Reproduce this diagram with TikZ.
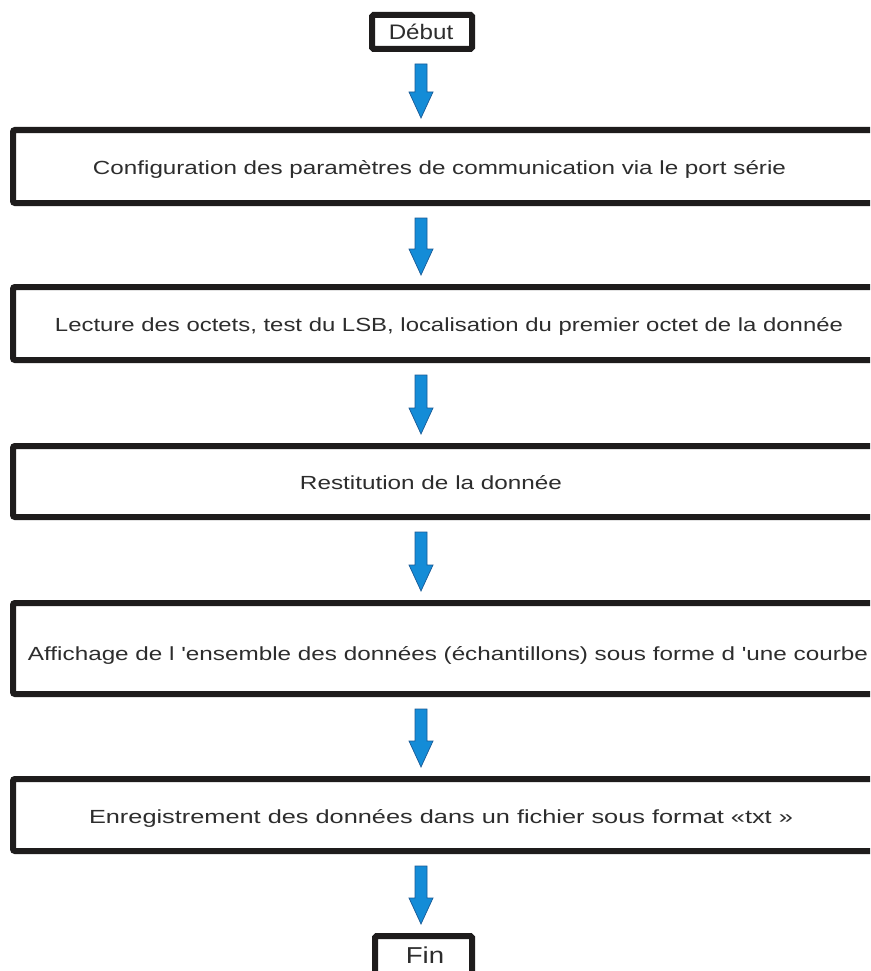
\documentclass[tikz,border=0pt]{standalone}
\usepackage{fontspec}
\setmainfont{Liberation Sans}
\usetikzlibrary{calc}
\definecolor{ink}{RGB}{30,28,28}
\definecolor{txt}{RGB}{45,45,45}
\definecolor{arrfill}{RGB}{20,140,215}
\definecolor{arrline}{RGB}{25,90,150}
\newcommand\wide[2]{\scalebox{#1}[1]{#2}}
\newcommand\fitw[2]{\resizebox{#1}{\height}{#2}}
\begin{document}
\begin{tikzpicture}[x=1pt,y=-1pt,
  box/.style={draw=ink, line width=6pt, rounded corners=2pt, minimum width=877pt, inner sep=0pt},
  term/.style={draw=ink, line width=6pt, rounded corners=1.5pt, inner sep=0pt},
  lbl/.style={anchor=base, inner sep=0pt, text=txt, font=\fontsize{19}{19}\selectfont},
  flow/.style={fill=arrfill, draw=arrline, line width=0.7pt}]
\useasboundingbox (0,0) rectangle (870,971);
\clip (0,0) rectangle (870,971);
\fill[white] (0,0) rectangle (870,971);
\coordinate (col) at (421,0);
% terminals
\node[term, minimum width=100pt, minimum height=34pt] (deb) at (422,32) {};
\node[lbl, font=\fontsize{21}{21}\selectfont] (tdeb) at (421,40) {\wide{1.15}{Début}};
\node[term, minimum width=97pt, minimum height=40pt] (fin) at (423.5,956) {};
\node[lbl, font=\fontsize{23}{23}\selectfont] (tfin) at (425,963) {\wide{1.2}{Fin}};
% process boxes
\node[box, minimum height=73pt] (b1) at (451.5,166.5) {};
\node[lbl] (t1) at (439.5,174.5) {\fitw{693pt}{Configuration des paramètres de communication via le port série}};
\node[box, minimum height=73pt] (b2) at (451.5,323.5) {};
\node[lbl] (t2) at (449,331.5) {\fitw{788pt}{Lecture des octets, test du LSB, localisation du premier octet de la donnée}};
\node[box, minimum height=71pt] (b3) at (451.5,481.5) {};
\node[lbl] (t3) at (431,489.5) {\fitw{262pt}{Restitution de la donnée}};
\node[box, minimum height=91pt] (b4) at (451.5,648.5) {};
\node[lbl] (t4) at (448,660.5) {\fitw{840pt}{Affichage de l \textquotesingle ensemble des données (échantillons) sous forme d \textquotesingle une courbe}};
\node[box, minimum height=72pt] (b5) at (451.5,815) {};
\node[lbl] (t5) at (441,823) {\fitw{704pt}{Enregistrement des données dans un fichier sous format «txt~»}};
% block arrows
\foreach \a/\b in {deb/b1,b1/b2,b2/b3,b3/b4,b4/b5,b5/fin}{
  \path (col |- \a.south) coordinate (S) (col |- \b.north) coordinate (E);
  \filldraw[flow] ($(S)+(-6,12)$) -- ($(S)+(6,12)$) -- ($(E)+(6,-35)$) -- ($(E)+(12,-35)$)
    -- ($(E)+(0,-9)$) -- ($(E)+(-12,-35)$) -- ($(E)+(-6,-35)$) -- cycle;
}
\end{tikzpicture}
\end{document}
